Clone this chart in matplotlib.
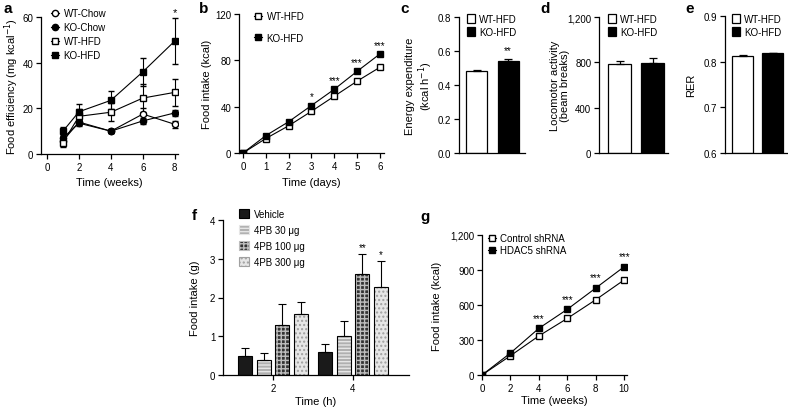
import matplotlib.pyplot as plt
import matplotlib.patches as mpatches
import numpy as np
from matplotlib.ticker import FuncFormatter

plt.rcParams['font.family'] = ['Liberation Sans', 'DejaVu Sans']
plt.rcParams['font.size'] = 7
plt.rcParams['axes.linewidth'] = 0.9
plt.rcParams['xtick.major.width'] = 0.9
plt.rcParams['ytick.major.width'] = 0.9
plt.rcParams['xtick.major.size'] = 3.5
plt.rcParams['ytick.major.size'] = 3.5

# panel a - food efficiency
weeks_a = [1, 2, 4, 6, 8]
wt_chow = [5.8, 14, 10, 17.5, 13]
wt_chow_err = [1.5, 1.5, 0.8, 2.5, 1.5]
ko_chow = [7, 13.5, 10, 14.5, 18]
ko_chow_err = [1.5, 1.2, 0.8, 1.2, 1.2]
wt_hfd = [5, 16.5, 18.3, 24.5, 27]
wt_hfd_err = [2, 3, 4, 6, 6]
ko_hfd = [10, 18.5, 23.5, 36, 49.5]
ko_hfd_err = [2, 3.5, 4, 6, 10]

# panel b - food intake (days)
days_b = [0, 1, 2, 3, 4, 5, 6]
wt_b = [0, 12.5, 23.5, 36, 49, 62, 74]
ko_b = [0, 15, 27, 41, 55, 70.5, 85.5]
stars_b = ['', '', '', '*', '***', '***', '***']

# panels c, d, e - bars
groups_cde = ['WT-HFD', 'KO-HFD']
energy = [0.485, 0.54]
energy_err = [0.006, 0.012]
loco = [785, 795]
loco_err = [28, 42]
rer = [0.813, 0.818]
rer_err = [0.001, 0.002]

# panel f - 4PB food intake
times_f = ['2', '4']
f_labels = ['Vehicle', '4PB 30 \u03bcg', '4PB 100 \u03bcg', '4PB 300 \u03bcg']
f_vals = [[0.5, 0.6], [0.4, 1.0], [1.28, 2.6], [1.57, 2.27]]
f_errs = [[0.2, 0.2], [0.17, 0.4], [0.56, 0.52], [0.32, 0.68]]
f_stars = [['', ''], ['', ''], ['', '**'], ['', '*']]

# panel g - shRNA food intake
weeks_g = [0, 2, 4, 6, 8, 10]
ctrl_g = [0, 165, 335, 485, 645, 815]
hdac_g = [0, 188, 400, 563, 745, 928]
stars_g = ['', '', '***', '***', '***', '***']

W, H = 788, 410
fig = plt.figure(figsize=(W / 100, H / 100), dpi=100)


def px_axes(x0, y0, x1, y1):
    ax = fig.add_axes([x0 / W, 1 - y1 / H, (x1 - x0) / W, (y1 - y0) / H])
    ax.spines['top'].set_visible(False)
    ax.spines['right'].set_visible(False)
    ax.tick_params(direction='out', length=3.5, pad=2, labelsize=7)
    return ax


def ylab(ax, text, x_px, box):
    ax.set_ylabel(text, fontsize=8, linespacing=1.1, va='center')
    ax.yaxis.set_label_coords((x_px - box[0]) / (box[2] - box[0]), 0.5)


def xlab(ax, text, y_px, box):
    ax.set_xlabel(text, fontsize=8, va='center')
    ax.xaxis.set_label_coords(0.5, (box[3] - y_px) / (box[3] - box[1]))


def comma(v, p):
    return '{:,.0f}'.format(v)


# ---- a ----
box = (41, 18, 178, 155)
ax = px_axes(*box)
ms = 4.5
ax.errorbar(weeks_a, wt_chow, yerr=wt_chow_err, color='k', lw=0.8, marker='o', mfc='white', mec='k', ms=ms, capsize=2.5, elinewidth=0.8, label='WT-Chow')
ax.errorbar(weeks_a, ko_chow, yerr=ko_chow_err, color='k', lw=0.8, marker='o', mfc='k', mec='k', ms=ms, capsize=2.5, elinewidth=0.8, label='KO-Chow')
ax.errorbar(weeks_a, wt_hfd, yerr=wt_hfd_err, color='k', lw=0.8, marker='s', mfc='white', mec='k', ms=ms + 0.5, capsize=2.5, elinewidth=0.8, label='WT-HFD')
ax.errorbar(weeks_a, ko_hfd, yerr=ko_hfd_err, color='k', lw=0.8, marker='s', mfc='k', mec='k', ms=ms, capsize=2.5, elinewidth=0.8, label='KO-HFD')
ax.text(weeks_a[-1], ko_hfd[-1] + ko_hfd_err[-1] + 0.5, '*', ha='center', va='bottom', fontsize=8)
ax.set_xlim(-0.375, 8.2)
ax.set_ylim(0, 60)
ax.set_xticks([0, 2, 4, 6, 8])
ax.set_yticks([0, 20, 40, 60])
ylab(ax, 'Food efficiency (mg kcal$^{-1}$)', 12, box)
xlab(ax, 'Time (weeks)', 183, box)
h, l = ax.get_legend_handles_labels()
hh = [x[0] for x in h]
ax.legend(hh, l, loc='upper left', bbox_to_anchor=(0.073, 1.066), frameon=False, fontsize=7,
          handlelength=0.8, handletextpad=0.5, labelspacing=0.42, borderpad=0, borderaxespad=0)

# ---- b ----
box = (239, 15, 384, 154)
ax = px_axes(*box)
ax.plot(days_b, wt_b, color='k', lw=0.8, marker='s', mfc='white', mec='k', ms=5, label='WT-HFD')
ax.plot(days_b, ko_b, color='k', lw=0.8, marker='s', mfc='k', mec='k', ms=4.5, label='KO-HFD')
for d, v, s in zip(days_b, ko_b, stars_b):
    if s:
        ax.annotate(s, (d, v), xytext=(0, 3), textcoords='offset points', ha='center', va='bottom', fontsize=7)
ax.set_xlim(-0.175, 6.18)
ax.set_ylim(0, 120)
ax.set_xticks(days_b)
ax.set_yticks([0, 40, 80, 120])
ylab(ax, 'Food intake (kcal)', 207, box)
xlab(ax, 'Time (days)', 183, box)
ax.legend(loc='upper left', bbox_to_anchor=(0.103, 1.02), frameon=False, fontsize=7,
          handlelength=0.8, handletextpad=0.5, labelspacing=1.2, borderpad=0, borderaxespad=0)


# ---- c, d, e ----
def bar_panel(box, vals, errs, ylim, yticks, spacing, left_px, width_px, ylabel, ylx, fmt=None, stars=None, leg_x=0.12):
    ax = px_axes(*box)
    xs = np.arange(len(vals))
    span = box[2] - box[0]
    colors = ['white', 'k']
    for i in range(len(vals)):
        ax.bar(xs[i], vals[i] - ylim[0], bottom=ylim[0], width=width_px / spacing, color=colors[i], edgecolor='k', lw=0.9,
               label=groups_cde[i])
        ax.errorbar(xs[i], vals[i], yerr=[[0], [errs[i]]], color='k', capsize=3, elinewidth=0.9, capthick=0.9)
    if stars:
        for i, s in enumerate(stars):
            if s:
                ax.annotate(s, (xs[i], vals[i] + errs[i]), xytext=(0, 3), textcoords='offset points', ha='center', va='bottom', fontsize=7)
    ax.set_xlim(-left_px / spacing, (span - left_px) / spacing)
    ax.set_ylim(*ylim)
    ax.set_yticks(yticks)
    ax.set_xticks([])
    if fmt:
        ax.yaxis.set_major_formatter(fmt)
    ax.set_ylabel(ylabel, fontsize=8, linespacing=1.1, va='center')
    ax.yaxis.set_label_coords((ylx - box[0]) / span, 0.5)
    top = (box[3] - 15) / (box[3] - box[1])
    ax.legend(loc='upper left', bbox_to_anchor=(leg_x, top), frameon=False, fontsize=7,
              handlelength=0.8, handleheight=0.95, handletextpad=0.45, labelspacing=0.3, borderpad=0, borderaxespad=0)
    return ax


bar_panel((459, 18, 525, 154), energy, energy_err, (0, 0.8), [0, 0.2, 0.4, 0.6, 0.8], 31.5, 17.5, 21,
          'Energy expenditure\n(kcal h$^{-1}$)', 420, fmt=FuncFormatter(lambda v, p: '{:.1f}'.format(v)), stars=['', '**'])
bar_panel((599, 18, 668, 154), loco, loco_err, (0, 1200), [0, 400, 800, 1200], 33, 20.5, 23,
          'Locomotor activity\n(beam breaks)', 560, fmt=FuncFormatter(comma), leg_x=0.13)
bar_panel((725, 17, 788, 154), rer, rer_err, (0.6, 0.9), [0.6, 0.7, 0.8, 0.9], 30, 17.5, 21,
          'RER', 691, fmt=FuncFormatter(lambda v, p: '{:.1f}'.format(v)), leg_x=0.11)

# ---- f ----
box = (223, 221, 409, 376)
ax = px_axes(*box)
gsp = 80.0
xs = np.arange(len(times_f))
bw = 14 / gsp
off = 18.5 / gsp
styles = [dict(face='#1a1a1a', hatch=None, hc=None),
          dict(face='#b0b0b0', hatch='-----', hc='#e6e6e6'),
          dict(face='#333333', hatch='++++', hc='#bdbdbd'),
          dict(face='#e6e6e6', hatch='....', hc='#a0a0a0')]
handles = []
for k in range(len(f_labels)):
    pos = xs + (k - 1.5) * off
    st = styles[k]
    if st['hatch']:
        ax.bar(pos, f_vals[k], width=bw, color=st['face'], edgecolor=st['hc'], hatch=st['hatch'], lw=0)
    ax.bar(pos, f_vals[k], width=bw, color=st['face'] if not st['hatch'] else 'none', edgecolor='k', lw=0.8)
    ax.errorbar(pos, f_vals[k], yerr=[[0] * len(pos), f_errs[k]], fmt='none', ecolor='k', capsize=3, elinewidth=0.8, capthick=0.8)
    for p, v, e, s in zip(pos, f_vals[k], f_errs[k], f_stars[k]):
        if s:
            ax.annotate(s, (p, v + e), xytext=(0, 1.5), textcoords='offset points', ha='center', va='bottom', fontsize=7)
    handles.append(mpatches.Patch(facecolor=st['face'], edgecolor=st['hc'] if st['hatch'] else 'k', hatch=st['hatch'], lw=0.8))
ax.set_xlim(-50 / gsp, (409 - 223 - 50) / gsp)
ax.set_ylim(0, 4)
ax.set_yticks([0, 1, 2, 3, 4])
ax.set_xticks(xs)
ax.set_xticklabels(times_f)
ylab(ax, 'Food intake (g)', 195, box)
xlab(ax, 'Time (h)', 402, box)
ax.legend(handles, f_labels, loc='upper left', bbox_to_anchor=(0.086, 1.07), frameon=False, fontsize=7,
          handlelength=1.05, handleheight=1.05, handletextpad=0.5, labelspacing=0.6, borderpad=0, borderaxespad=0)

# ---- g ----
box = (482, 236, 627, 376)
ax = px_axes(*box)
ax.plot(weeks_g, ctrl_g, color='k', lw=0.8, marker='s', mfc='white', mec='k', ms=5, label='Control shRNA')
ax.plot(weeks_g, hdac_g, color='k', lw=0.8, marker='s', mfc='k', mec='k', ms=4.5, label='HDAC5 shRNA')
for wk, v, s in zip(weeks_g, hdac_g, stars_g):
    if s:
        ax.annotate(s, (wk, v), xytext=(0, 4), textcoords='offset points', ha='center', va='bottom', fontsize=7)
ax.set_xlim(0, 10.2)
ax.set_ylim(0, 1200)
ax.set_xticks(weeks_g)
ax.set_yticks([0, 300, 600, 900, 1200])
ax.yaxis.set_major_formatter(FuncFormatter(comma))
ylab(ax, 'Food intake (kcal)', 437, box)
xlab(ax, 'Time (weeks)', 401, box)
ax.legend(loc='upper left', bbox_to_anchor=(0.04, 1.014), frameon=False, fontsize=7,
          handlelength=0.8, handletextpad=0.5, labelspacing=0.25, borderpad=0, borderaxespad=0)

# panel letters
for letter, x, y in [('a', 8, 9), ('b', 204, 9), ('c', 405, 9), ('d', 545, 9), ('e', 690, 9), ('f', 194, 216), ('g', 425, 217)]:
    fig.text(x / W, 1 - y / H, letter, fontsize=11, fontweight='bold', ha='center', va='center')

fig.savefig('out.png', dpi=100)
